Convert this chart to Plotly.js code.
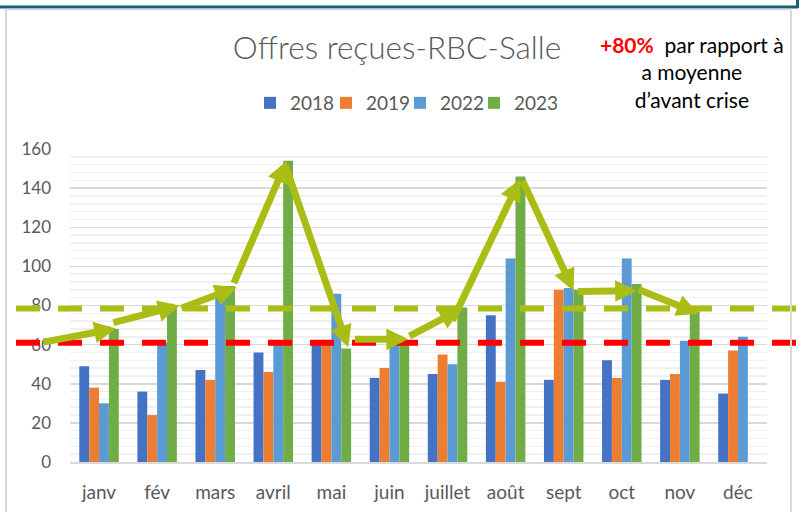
<!DOCTYPE html>
<html>
<head>
<meta charset="utf-8">
<script src="https://cdn.plot.ly/plotly-3.0.1.min.js"></script>
<style>html,body{margin:0;padding:0;background:#fff;}#chart{width:807px;height:512px;}</style>
</head>
<body>
<div id="chart"></div>
<script>
// ---- data ----
const months = ['janv','fév','mars','avril','mai','juin','juillet','août','sept','oct','nov','déc'];
const seriesNames = ['2018','2019','2022','2023'];
const v2018 = [49, 36, 47, 56, 62, 43, 45, 75, 42, 52, 42, 35];
const v2019 = [38, 24, 42, 46, 62, 48, 55, 41, 88, 43, 45, 57];
const v2022 = [30, 61, 88, 61, 86, 65, 50, 104, 89, 104, 62, 64];
const v2023 = [68, 80, 90, 154, 58, 61, 79, 146, 88, 91, 77, null];
const yTicks = [0, 20, 40, 60, 80, 100, 120, 140, 160];
// reference levels
const avgBeforeCrisis = 61;
const level2023 = 78.5;
// hand-drawn trend arrows (category index, value)
const arrowTailX = [-0.98, 0.22, 1.39, 2.31, 3.20, 4.38, 5.32, 6.07, 7.28, 8.22, 9.26];
const arrowTailY = [61.1, 71.0, 78.3, 90.7, 152.2, 62.7, 63.9, 71.5, 144.6, 87.1, 88.5];
const arrowTipX  = [0.29, 1.39, 2.37, 3.23, 4.29, 5.32, 6.24, 7.25, 8.17, 9.26, 10.32];
const arrowTipY  = [68.3, 80.0, 89.3, 153.9, 58.7, 62.7, 78.3, 144.6, 87.6, 87.6, 75.8];

const colors = ['#4472C4', '#ED7D31', '#5B9BD5', '#70AD47'];
const values = [v2018, v2019, v2022, v2023];
const arrowColor = '#AABD15';
const FONT = 'Lato, "Open Sans", sans-serif';

// plot-area geometry (pixels)
const W = 807, Hgt = 512;
const L = 70, R = 40, T = 149, B = 50;
const PW = W - L - R, PH = Hgt - T - B;
const pX = px => (px - L) / PW;
const pY = py => (T + PH - py) / PH;

// legend entry positions (pixel centre of the colour swatch)
const legendSwatchX = [270, 346, 420, 494];
const legendIds = ['legend', 'legend2', 'legend3', 'legend4'];

const traces = seriesNames.map((n, i) => ({
  type: 'bar', name: n, x: months, y: values[i],
  marker: {color: colors[i], line: {width: 0}},
  legend: legendIds[i],
  hoverinfo: 'x+y+name'
}));

const shapes = [
  // reference dashed lines
  {type: 'line', xref: 'paper', yref: 'y', x0: pX(16), x1: pX(807), y0: avgBeforeCrisis, y1: avgBeforeCrisis,
   line: {color: '#FF0000', width: 6, dash: '24px,18px'}, layer: 'above'},
  {type: 'line', xref: 'paper', yref: 'y', x0: pX(16), x1: pX(807), y0: level2023, y1: level2023,
   line: {color: arrowColor, width: 6, dash: '24px,18px'}, layer: 'above'},
  // frame decorations
  {type: 'line', xref: 'paper', yref: 'paper', x0: pX(0), x1: pX(798), y0: pY(7), y1: pY(7),
   line: {color: '#1D5C78', width: 3}},
  {type: 'line', xref: 'paper', yref: 'paper', x0: pX(797.5), x1: pX(797.5), y0: pY(0), y1: pY(8),
   line: {color: '#1D5C78', width: 3}},
  {type: 'line', xref: 'paper', yref: 'paper', x0: pX(6), x1: pX(791), y0: pY(9.5), y1: pY(9.5),
   line: {color: '#D9D9D9', width: 1.5}},
  {type: 'line', xref: 'paper', yref: 'paper', x0: pX(6), x1: pX(6), y0: pY(9), y1: pY(512),
   line: {color: '#D9D9D9', width: 2}},
  {type: 'line', xref: 'paper', yref: 'paper', x0: pX(791), x1: pX(791), y0: pY(10), y1: pY(512),
   line: {color: '#D9D9D9', width: 2}}
];

const annotations = arrowTipX.map((x, i) => ({
  x: x, y: arrowTipY[i], xref: 'x', yref: 'y',
  ax: arrowTailX[i], ay: arrowTailY[i], axref: 'x', ayref: 'y',
  text: '', showarrow: true, arrowhead: 2, arrowsize: 0.62, arrowwidth: 7,
  arrowcolor: arrowColor, standoff: 0, startstandoff: 0
}));

annotations.push({
  xref: 'paper', yref: 'paper', x: pX(692), y: pY(72), xanchor: 'center', yanchor: 'middle',
  showarrow: false, align: 'center',
  text: '<span style="color:#FF0000"><b>+80%</b></span>  par rapport à<br>a moyenne<br>d’avant crise',
  font: {family: FONT, size: 21, color: '#000000'}
});

const layout = {
  width: W, height: Hgt,
  margin: {l: L, r: R, t: T, b: B, pad: 0},
  paper_bgcolor: '#FFFFFF', plot_bgcolor: '#FFFFFF',
  font: {family: FONT, color: '#595959', size: 16},
  title: {text: 'Offres reçues-RBC-Salle', xref: 'container', yref: 'container',
          x: 397 / W, y: 1 - 48 / Hgt, xanchor: 'center', yanchor: 'middle',
          font: {family: FONT, size: 31.5, color: '#595959', weight: 300}},
  showlegend: true,
  barmode: 'group', bargap: 0.32, bargroupgap: 0,
  xaxis: {type: 'category', range: [-0.5, months.length - 0.5], autorange: false,
          showgrid: false, showline: true, linecolor: '#D9D9D9', linewidth: 2,
          ticks: '', ticklabelstandoff: 12,
          tickfont: {size: 19, color: '#595959'}, zeroline: false, fixedrange: true},
  yaxis: {range: [0, 160], autorange: false, tickvals: yTicks, ticktext: yTicks.map(String), showgrid: true,
          gridcolor: '#D9D9D9', gridwidth: 1.5, zeroline: false, showline: false, ticks: '',
          ticklabelstandoff: 18,
          tickfont: {size: 17, color: '#595959'},
          minor: {dtick: 4, showgrid: true, gridcolor: '#F0F0F0', gridwidth: 1.5}},
  shapes: shapes,
  annotations: annotations
};

legendIds.forEach((id, i) => {
  layout[id] = {orientation: 'h', x: pX(legendSwatchX[i] - 20), y: pY(103),
                xanchor: 'left', yanchor: 'middle', bgcolor: 'rgba(0,0,0,0)',
                font: {family: FONT, size: 19, color: '#595959'}, itemwidth: 30};
});

Plotly.newPlot('chart', traces, layout, {displayModeBar: false, staticPlot: true});
</script>
</body>
</html>
